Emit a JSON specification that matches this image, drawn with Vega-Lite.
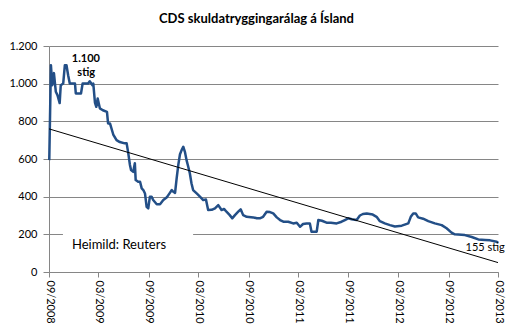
{
  "$schema": "https://vega.github.io/schema/vega-lite/v6.json",
  "width": 449,
  "height": 226,
  "autosize": {"type": "none"},
  "padding": {"left": 49, "top": 46, "right": 18, "bottom": 60},
  "background": "white",
  "config": {
    "font": "Lato",
    "view": {"stroke": null},
    "axis": {"labelColor": "#000000", "labelFont": "Lato", "labelFontSize": 11, "domainColor": "#868686", "tickColor": "#868686", "gridColor": "#868686", "title": null}
  },
  "title": {"text": "CDS skuldatryggingarálag á Ísland", "font": "Lato", "fontSize": 13, "fontWeight": "bold", "color": "#000000", "anchor": "middle", "dx": -17, "offset": 14},
  "datasets": {
    "cds": [
      {"d": "2008-09-02", "v": 594}, {"d": "2008-09-08", "v": 1098}, {"d": "2008-09-13", "v": 992}, {"d": "2008-09-19", "v": 1056},
      {"d": "2008-09-26", "v": 957}, {"d": "2008-10-02", "v": 939}, {"d": "2008-10-10", "v": 897}, {"d": "2008-10-14", "v": 992},
      {"d": "2008-10-23", "v": 1001}, {"d": "2008-10-29", "v": 1098}, {"d": "2008-11-04", "v": 1098}, {"d": "2008-11-10", "v": 1045},
      {"d": "2008-11-16", "v": 1001}, {"d": "2008-12-05", "v": 1001}, {"d": "2008-12-08", "v": 948}, {"d": "2008-12-27", "v": 948},
      {"d": "2009-01-02", "v": 1001}, {"d": "2009-01-22", "v": 1001}, {"d": "2009-01-28", "v": 1013}, {"d": "2009-02-07", "v": 992},
      {"d": "2009-02-10", "v": 1000}, {"d": "2009-02-16", "v": 900}, {"d": "2009-02-21", "v": 877}, {"d": "2009-02-26", "v": 921},
      {"d": "2009-03-06", "v": 869}, {"d": "2009-03-17", "v": 859}, {"d": "2009-04-01", "v": 850}, {"d": "2009-04-05", "v": 789},
      {"d": "2009-04-12", "v": 789}, {"d": "2009-04-24", "v": 730}, {"d": "2009-05-06", "v": 700}, {"d": "2009-05-18", "v": 690},
      {"d": "2009-06-05", "v": 683}, {"d": "2009-06-12", "v": 683}, {"d": "2009-06-18", "v": 630}, {"d": "2009-06-24", "v": 568},
      {"d": "2009-06-28", "v": 541}, {"d": "2009-07-06", "v": 532}, {"d": "2009-07-12", "v": 577}, {"d": "2009-07-15", "v": 488},
      {"d": "2009-07-24", "v": 479}, {"d": "2009-07-31", "v": 479}, {"d": "2009-08-06", "v": 444}, {"d": "2009-08-12", "v": 435},
      {"d": "2009-08-18", "v": 417}, {"d": "2009-08-24", "v": 346}, {"d": "2009-08-30", "v": 338}, {"d": "2009-09-05", "v": 400},
      {"d": "2009-09-11", "v": 400}, {"d": "2009-09-17", "v": 382}, {"d": "2009-09-30", "v": 360}, {"d": "2009-10-12", "v": 360},
      {"d": "2009-10-24", "v": 382}, {"d": "2009-11-05", "v": 395}, {"d": "2009-11-17", "v": 420}, {"d": "2009-11-24", "v": 435},
      {"d": "2009-11-30", "v": 426}, {"d": "2009-12-06", "v": 420}, {"d": "2009-12-12", "v": 500}, {"d": "2009-12-18", "v": 570},
      {"d": "2009-12-24", "v": 625}, {"d": "2009-12-30", "v": 647}, {"d": "2010-01-05", "v": 665}, {"d": "2010-01-11", "v": 638},
      {"d": "2010-01-17", "v": 594}, {"d": "2010-01-23", "v": 560}, {"d": "2010-01-29", "v": 524}, {"d": "2010-02-04", "v": 471},
      {"d": "2010-02-10", "v": 435}, {"d": "2010-02-23", "v": 417}, {"d": "2010-03-07", "v": 400}, {"d": "2010-03-19", "v": 382},
      {"d": "2010-03-29", "v": 385}, {"d": "2010-04-06", "v": 329}, {"d": "2010-04-19", "v": 330}, {"d": "2010-05-01", "v": 338},
      {"d": "2010-05-13", "v": 355}, {"d": "2010-05-25", "v": 329}, {"d": "2010-06-03", "v": 335}, {"d": "2010-06-12", "v": 320},
      {"d": "2010-06-24", "v": 302}, {"d": "2010-07-03", "v": 285}, {"d": "2010-07-13", "v": 302}, {"d": "2010-07-25", "v": 320},
      {"d": "2010-08-03", "v": 333}, {"d": "2010-08-12", "v": 302}, {"d": "2010-08-25", "v": 293}, {"d": "2010-09-18", "v": 290},
      {"d": "2010-10-01", "v": 285}, {"d": "2010-10-12", "v": 285}, {"d": "2010-10-24", "v": 293}, {"d": "2010-11-06", "v": 320},
      {"d": "2010-11-18", "v": 318}, {"d": "2010-11-30", "v": 311}, {"d": "2010-12-13", "v": 290}, {"d": "2010-12-25", "v": 276},
      {"d": "2011-01-06", "v": 267}, {"d": "2011-01-24", "v": 267}, {"d": "2011-02-11", "v": 258}, {"d": "2011-02-24", "v": 262},
      {"d": "2011-03-08", "v": 240}, {"d": "2011-03-19", "v": 255}, {"d": "2011-04-01", "v": 258}, {"d": "2011-04-13", "v": 258},
      {"d": "2011-04-19", "v": 214}, {"d": "2011-05-08", "v": 214}, {"d": "2011-05-14", "v": 276}, {"d": "2011-05-27", "v": 272},
      {"d": "2011-06-13", "v": 262}, {"d": "2011-06-29", "v": 262}, {"d": "2011-07-20", "v": 258}, {"d": "2011-08-07", "v": 267},
      {"d": "2011-08-19", "v": 276}, {"d": "2011-08-31", "v": 285}, {"d": "2011-09-13", "v": 280}, {"d": "2011-10-01", "v": 276},
      {"d": "2011-10-13", "v": 300}, {"d": "2011-10-24", "v": 308}, {"d": "2011-11-07", "v": 311}, {"d": "2011-11-29", "v": 305},
      {"d": "2011-12-13", "v": 293}, {"d": "2011-12-25", "v": 270}, {"d": "2012-01-12", "v": 258}, {"d": "2012-01-31", "v": 249},
      {"d": "2012-02-18", "v": 242}, {"d": "2012-03-14", "v": 246}, {"d": "2012-04-07", "v": 258}, {"d": "2012-04-16", "v": 293},
      {"d": "2012-04-25", "v": 311}, {"d": "2012-05-04", "v": 311}, {"d": "2012-05-13", "v": 290}, {"d": "2012-05-31", "v": 283},
      {"d": "2012-06-19", "v": 270}, {"d": "2012-07-13", "v": 258}, {"d": "2012-08-07", "v": 249}, {"d": "2012-08-25", "v": 232},
      {"d": "2012-09-12", "v": 209}, {"d": "2012-09-24", "v": 200}, {"d": "2012-10-31", "v": 196}, {"d": "2012-11-25", "v": 186},
      {"d": "2012-12-19", "v": 173}, {"d": "2013-01-13", "v": 170}, {"d": "2013-01-31", "v": 168}, {"d": "2013-02-24", "v": 161},
      {"d": "2013-03-01", "v": 155}
    ],
    "trend": [{"d": "2008-09-01", "v": 760}, {"d": "2013-03-01", "v": 50}],
    "box": [{"d1": "2008-10-22", "d2": "2010-02-10", "v1": 100, "v2": 280}],
    "boldlabels": [{"d": "2009-01-14", "v": 1130, "t": "1.100"}, {"d": "2009-01-15", "v": 1056, "t": "stig"}],
    "labels": [{"d": "2013-01-13", "v": 127, "t": "155 stig"}],
    "source": [{"d": "2009-05-15", "v": 146, "t": "Heimild: Reuters"}]
  },
  "encoding": {
    "x": {
      "field": "d", "type": "temporal",
      "scale": {"type": "utc", "domain": [{"year": 2008, "month": 9, "date": 1, "utc": true}, {"year": 2013, "month": 3, "date": 1, "utc": true}]},
      "axis": {
        "values": [
          {"year": 2008, "month": 9, "date": 1, "utc": true}, {"year": 2009, "month": 3, "date": 1, "utc": true},
          {"year": 2009, "month": 9, "date": 1, "utc": true}, {"year": 2010, "month": 3, "date": 1, "utc": true},
          {"year": 2010, "month": 9, "date": 1, "utc": true}, {"year": 2011, "month": 3, "date": 1, "utc": true},
          {"year": 2011, "month": 9, "date": 1, "utc": true}, {"year": 2012, "month": 3, "date": 1, "utc": true},
          {"year": 2012, "month": 9, "date": 1, "utc": true}, {"year": 2013, "month": 3, "date": 1, "utc": true}
        ],
        "format": "%m/%Y", "labelAngle": 90, "labelAlign": "left", "labelBaseline": "middle", "tickSize": 5, "labelPadding": 3, "grid": false, "labelOverlap": false, "labelFlush": false
      }
    },
    "y": {
      "field": "v", "type": "quantitative",
      "scale": {"domain": [0, 1200], "nice": false},
      "axis": {"values": [0, 200, 400, 600, 800, 1000, 1200], "labelExpr": "replace(format(datum.value, ','), ',', '.')", "grid": true, "tickSize": 6, "labelPadding": 6}
    }
  },
  "layer": [
    {"data": {"name": "cds"}, "mark": {"type": "line", "color": "#234f87", "strokeWidth": 2.5, "strokeJoin": "round"}},
    {"data": {"name": "trend"}, "mark": {"type": "line", "color": "#000000", "strokeWidth": 1}},
    {"data": {"name": "box"}, "mark": {"type": "rect", "fill": "white"},
     "encoding": {"x": {"field": "d1", "type": "temporal"}, "x2": {"field": "d2"}, "y": {"field": "v1", "type": "quantitative"}, "y2": {"field": "v2"}}},
    {"data": {"name": "source"}, "mark": {"type": "text", "font": "Lato", "fontSize": 13, "color": "#000000", "align": "center", "baseline": "middle"},
     "encoding": {"text": {"field": "t"}}},
    {"data": {"name": "boldlabels"}, "mark": {"type": "text", "font": "Lato", "fontSize": 11, "fontWeight": "bold", "color": "#000000", "align": "center", "baseline": "middle"},
     "encoding": {"text": {"field": "t"}}},
    {"data": {"name": "labels"}, "mark": {"type": "text", "font": "Lato", "fontSize": 11, "color": "#000000", "align": "center", "baseline": "middle"},
     "encoding": {"text": {"field": "t"}}}
  ]
}
